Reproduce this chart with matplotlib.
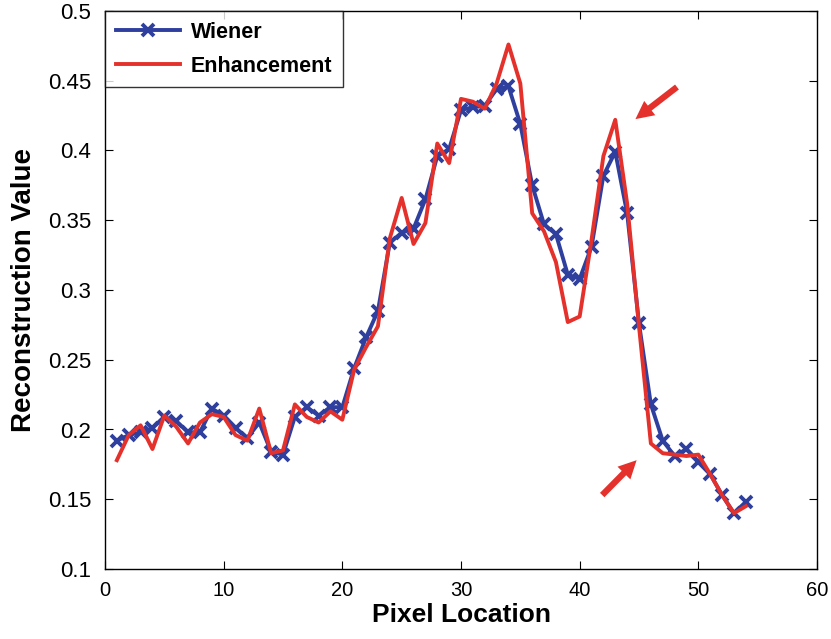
import matplotlib
matplotlib.use("Agg")
import matplotlib.pyplot as plt
import numpy as np

plt.rcParams['font.family'] = ['Liberation Sans', 'DejaVu Sans']

pixel = np.arange(1, 55)

wiener = [0.192, 0.196, 0.198, 0.201, 0.209, 0.206, 0.198, 0.198, 0.215, 0.210,
          0.201, 0.194, 0.205, 0.184, 0.182, 0.209, 0.216, 0.210, 0.216, 0.216,
          0.244, 0.266, 0.285, 0.334, 0.341, 0.344, 0.365, 0.396, 0.401, 0.429,
          0.431, 0.432, 0.444, 0.446, 0.419, 0.375, 0.347, 0.340, 0.311, 0.308,
          0.331, 0.382, 0.399, 0.355, 0.276, 0.218, 0.192, 0.181, 0.186, 0.177,
          0.168, 0.153, 0.140, 0.148]

enhancement = [0.178, 0.196, 0.203, 0.186, 0.210, 0.202, 0.190, 0.205, 0.211, 0.209,
               0.196, 0.192, 0.215, 0.183, 0.185, 0.218, 0.209, 0.205, 0.213, 0.207,
               0.243, 0.259, 0.274, 0.337, 0.366, 0.333, 0.348, 0.405, 0.391, 0.437,
               0.435, 0.430, 0.448, 0.476, 0.448, 0.355, 0.342, 0.320, 0.277, 0.281,
               0.336, 0.396, 0.422, 0.362, 0.274, 0.190, 0.183, 0.182, 0.181, 0.182,
               0.168, 0.153, 0.140, 0.145]

blue = '#2e3f9e'
red = '#e4312b'

fig = plt.figure(figsize=(8.31, 6.39), dpi=100)
ax = fig.add_axes([105/831, 1 - 569/639, 712/831, 558/639])

ax.plot(pixel, wiener, color=blue, lw=2.8, marker='x', ms=8, mew=2.8, label='Wiener')
ax.plot(pixel, enhancement, color=red, lw=2.8, label='Enhancement')

# arrows pointing at the sharpened features
arrow_kw = dict(arrowstyle='simple,head_length=1.3,head_width=1.3,tail_width=0.45',
                color=red, lw=0, shrinkA=0, shrinkB=0)
ax.annotate('', xy=(44.7, 0.4225), xytext=(48.2, 0.4455), arrowprops=arrow_kw)
ax.annotate('', xy=(44.8, 0.178), xytext=(41.9, 0.153), arrowprops=arrow_kw)

ax.set_xlim(0, 60)
ax.set_ylim(0.1, 0.5)
ax.set_xticks(np.arange(0, 61, 10))
ax.set_yticks(np.arange(0.1, 0.51, 0.05))
ax.set_yticklabels(['0.1', '0.15', '0.2', '0.25', '0.3', '0.35', '0.4', '0.45', '0.5'])
ax.tick_params(direction='in', length=6, top=True, right=True)
ax.tick_params(axis='y', pad=10, labelsize=16)
ax.tick_params(axis='x', pad=9, labelsize=14.5)
for s in ax.spines.values():
    s.set_linewidth(1.0)

ax.set_xlabel('Pixel Location', fontsize=19, fontweight='bold', labelpad=2)
ax.set_ylabel('Reconstruction Value', fontsize=20, fontweight='bold', labelpad=8)

leg = ax.legend(loc='upper left', prop={'weight': 'bold', 'size': 15.5},
                frameon=True, fancybox=False, borderaxespad=0, handlelength=3.0,
                borderpad=0.5, labelspacing=0.6, handletextpad=0.5)
leg.get_frame().set_edgecolor('black')
leg.get_frame().set_linewidth(1.0)

fig.savefig('out.png', dpi=100)
